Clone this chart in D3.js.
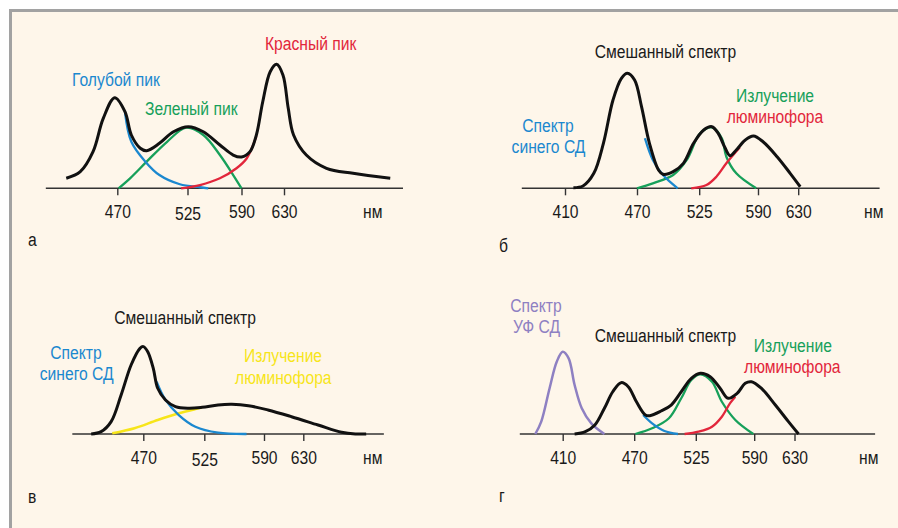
<!DOCTYPE html>
<html><head><meta charset="utf-8">
<script src="https://cdn.jsdelivr.net/npm/d3@7"></script>
<style>
html,body{margin:0;padding:0;background:#fff;}
svg{display:block;}
text{font-family:"Liberation Sans",Arial,sans-serif;}
</style></head>
<body><svg id="c" width="898" height="528"></svg>
<script>
// ---- DATA (wavelength nm, relative intensity) ----
const ticksABV = [470, 525, 590, 630];
const ticksBG = [410, 470, 525, 590, 630];
const unitLabel = "нм";

// Panel а
const blackA = [[430,7.7],[441,12.8],[451,28.2],[459,53.8],[468,69.7],[476,59],[481,41],[488,30.8],[493,28.9],[503,34.6],[514,43.5],[526,47.4],[544,43.5],[564,33.3],[580,25.6],[590,24.1],[598,28.2],[604,41],[610,66.6],[617,89.7],[623,95.4],[629,87.2],[634,61.5],[639,41],[651,25.6],[670,15.4],[695,11.5],[730,7.7]];
const blueA = [[476,58.7],[481,35.8],[492,20.5],[503,10.2],[519,3.1],[540,0.8],[550,0]];
const greenA = [[471,0],[480,7.7],[493,20.5],[509,35.8],[524,46.6],[544,41],[564,25.6],[580,10.2],[590,0]];
const redA = [[520,0],[540,2.5],[564,7.7],[584,15.4],[595,23.1],[604,40.2]];

// Panel б
const blackB = [[417,0.5],[425,1.8],[434,11.5],[442,34.6],[450,67.9],[457,84.6],[462,88.5],[468,83.3],[474,62.8],[481,34.6],[489,14.1],[493,10.8],[502,12.8],[511,19.2],[520,34.6],[530,44.8],[539,47.4],[546,42.3],[553,32],[559,25.1],[566,29.5],[576,37.2],[585,40.2],[595,35.8],[609,24.3],[622,11.5],[632,1.2]];
const blueB = [[477,38.5],[484,21.8],[493,10.2],[506,0]];
const greenB = [[470,0],[484,3.8],[502,10.2],[514,21.8],[526,42.3],[539,46.9],[550,38.5],[555,24.3],[566,11.5],[588,0]];
const redB = [[518,0],[533,2.5],[544,8.9],[555,19.2],[570,31.5]];

// Panel в
const blackV = [[423,0],[432,1.8],[441,9.5],[450,30],[459,53.1],[467,65.9],[470,67.2],[474,63.3],[479,50.5],[483,35.2],[490,26.2],[499,21],[511,19.8],[523,20.5],[540,22.3],[555,22.8],[573,21.8],[594,18.5],[618,13.3],[645,6.9],[669,1.3],[683,0],[694,0]];
const blueV = [[482,40.2],[490,26.2],[502,14.6],[517,5.6],[540,1],[571,0]];
const yellowV = [[442,0.5],[462,4.4],[483,10.8],[502,16],[517,19.2],[523,20.3]];

// Panel г
const purpleG = [[387,0],[392,9.5],[399,35.2],[405,55.6],[410,63.3],[415,58.2],[420,37.7],[426,19.8],[434,8.2],[445,0]];
const blackG = [[420,0],[429,1.8],[437,6.9],[445,19.8],[452,32.5],[459,39.5],[465,36.4],[472,24.8],[480,14.6],[484,14.1],[494,17.7],[503,22.3],[512,32.5],[521,42.8],[530,46.7],[541,44.1],[552,35.2],[561,27.5],[571,31.3],[580,39],[587,40.2],[597,35.2],[611,22.3],[624,9.5],[634,0]];
const blueG = [[478,14.6],[486,8.2],[497,2.3],[509,0]];
const greenG = [[471,0],[486,4.4],[501,12.1],[512,27.5],[521,41.5],[530,45.9],[543,40.2],[554,24.8],[569,10.8],[589,0]];
const redG = [[515,0],[528,1.8],[543,5.6],[554,13.3],[563,23.6],[569,28.7]];

// ---- STYLE / LAYOUT ----
const C = {black:"#111", blue:"#1b88cf", green:"#17a05a", red:"#e2263b", yellow:"#f7e51a", purple:"#8e80c2", text:"#1a1a1a", axis:"#333"};
const FS = 18, SX = 0.87;

const svg = d3.select("#c");
svg.append("rect").attr("x",10.5).attr("y",10.5).attr("width",900).attr("height",530)
  .attr("fill","#fef6ea").attr("stroke","#a2a2a2").attr("stroke-width",3);

const panels = [
  {letter:"а", letterPos:[28,246], ticks:ticksABV, px:[117.3,187.5,241.5,284], extent:[414,742], axisY:188.3, unitPos:[363,218], lowTick:true,
   series:[[greenA,C.green,2.3],[blueA,C.blue,2.3],[redA,C.red,2.3],[blackA,C.black,3]],
   labels:[["Красный пик",C.red,265,50,"start"],["Голубой пик",C.blue,72,86,"start"],["Зеленый пик",C.green,145,115,"start"]]},
  {letter:"б", letterPos:[499,252], ticks:ticksBG, px:[565,637,699.2,758,798.2], extent:[374,711], axisY:188.3, unitPos:[864,218],
   series:[[greenB,C.green,2.3],[blueB,C.blue,2.3],[redB,C.red,2.3],[blackB,C.black,3]],
   labels:[["Смешанный спектр",C.text,594.7,58.3,"start"],["Спектр",C.blue,548,131.7,"middle"],["синего СД",C.blue,548.5,153.3,"middle"],
           ["Излучение",C.green,775,101.7,"middle"],["люминофора",C.red,775,123.3,"middle"]]},
  {letter:"в", letterPos:[28,502.7], ticks:ticksABV, px:[143.3,204.3,264,303.3], extent:[406,712], axisY:434, unitPos:[363,464], lowTick:true,
   series:[[yellowV,C.yellow,2.5],[blueV,C.blue,2.3],[blackV,C.black,3]],
   labels:[["Смешанный спектр",C.text,114.3,324.3,"start"],["Спектр",C.blue,76,359,"middle"],["синего СД",C.blue,76.7,380,"middle"],
           ["Излучение",C.yellow,283,362.3,"middle"],["люминофора",C.yellow,283.3,384,"middle"]]},
  {letter:"г", letterPos:[499,501.7], ticks:ticksBG, px:[562.7,634.2,695.8,754.2,794.5], extent:[374,710], axisY:434, unitPos:[859,464],
   series:[[purpleG,C.purple,2.5],[greenG,C.green,2.3],[blueG,C.blue,2.3],[redG,C.red,2.3],[blackG,C.black,3]],
   labels:[["Спектр",C.purple,536,311.7,"middle"],["УФ СД",C.purple,536.5,333.3,"middle"],["Смешанный спектр",C.text,594.7,342.3,"start"],
           ["Излучение",C.green,792.8,351.7,"middle"],["люминофора",C.red,792.3,373.3,"middle"]]}
];

function addText(g, t, color, x, y, anchor) {
  return g.append("text").attr("transform",`translate(${x},${y}) scale(${SX},1)`)
    .attr("text-anchor",anchor||"start").attr("fill",color).style("font-size",FS+"px").text(t);
}

panels.forEach(p => {
  const x = d3.scaleLinear().domain(p.ticks).range(p.px);
  const y = d3.scaleLinear().domain([0,100]).range([p.axisY, p.axisY-130]);
  const g = svg.append("g");
  g.append("line").attr("x1",x(p.extent[0])).attr("x2",x(p.extent[1]))
    .attr("y1",p.axisY).attr("y2",p.axisY).attr("stroke",C.axis).attr("stroke-width",1.4);
  const ax = g.append("g").attr("transform",`translate(0,${p.axisY})`)
    .call(d3.axisBottom(x).tickValues(p.ticks).tickSize(7).tickSizeOuter(0).tickFormat(d3.format("d")));
  ax.select(".domain").remove();
  ax.selectAll(".tick line").attr("stroke",C.axis).attr("stroke-width",1.4);
  ax.selectAll(".tick text")
    .attr("y",null).attr("dy",null)
    .attr("transform", d => `translate(0,${(p.lowTick && d===525) ? 32 : 30}) scale(${SX},1)`)
    .attr("fill",C.text).style("font-size",FS+"px").style("font-family",null);
  addText(g, unitLabel, C.text, p.unitPos[0], p.unitPos[1]);
  const line = d3.line().x(d=>x(d[0])).y(d=>y(d[1])).curve(d3.curveCatmullRom.alpha(0.5));
  p.series.forEach(([data,color,w]) => {
    g.append("path").datum(data).attr("d",line).attr("fill","none")
      .attr("stroke",color).attr("stroke-width",w).attr("stroke-linejoin","round");
  });
  p.labels.forEach(([t,color,lx,ly,anchor]) => addText(g, t, color, lx, ly, anchor));
  addText(g, p.letter, C.text, p.letterPos[0], p.letterPos[1]);
});
</script>
</body></html>
